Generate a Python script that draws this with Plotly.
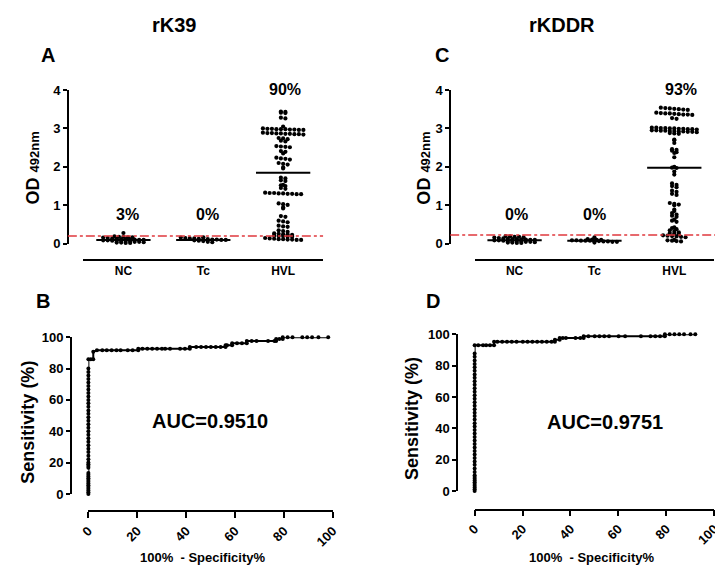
import numpy as np
import plotly.graph_objects as go

W, H = 723, 565
FONT = "Liberation Sans, Arial, sans-serif"

# ---------------- data ----------------
categories = ["NC", "Tc", "HVL"]

nc_A = [0.28, 0.19, 0.18, 0.18, 0.17, 0.17,
        0.16, 0.15, 0.14, 0.13, 0.12, 0.12, 0.11, 0.11, 0.10, 0.10,
        0.09, 0.09, 0.08, 0.08, 0.07, 0.07, 0.06, 0.05, 0.05, 0.04,
        0.03, 0.03, 0.02, 0.02]
tc_A = [0.17, 0.16, 0.15, 0.14, 0.14, 0.13, 0.12, 0.12, 0.11, 0.11, 0.10, 0.10,
        0.09, 0.08, 0.07, 0.05, 0.04]
hvl_A = [3.44, 3.43, 3.41, 3.40, 3.28, 3.26, 3.05,
         3.00, 2.99, 2.99, 2.98, 2.98, 2.98, 2.97, 2.97, 2.96, 2.96,
         2.89, 2.88, 2.88, 2.87, 2.87, 2.86, 2.86, 2.85, 2.85, 2.84,
         2.75, 2.74, 2.72, 2.68, 2.66, 2.54, 2.53, 2.52, 2.51, 2.41, 2.39, 2.35,
         2.24, 2.22, 2.21, 2.19, 2.10, 2.08, 2.06, 1.99, 1.96,
         1.72, 1.70, 1.65, 1.63, 1.53, 1.52, 1.50, 1.45, 1.43,
         1.33, 1.32, 1.32, 1.31, 1.31, 1.30, 1.30, 1.29, 1.29,
         1.05, 1.03, 1.01, 0.95, 0.92, 0.72, 0.70, 0.60, 0.58, 0.56,
         0.47, 0.45, 0.44, 0.35, 0.33, 0.31,
         0.27, 0.26, 0.25, 0.24, 0.23,
         0.21, 0.20, 0.20, 0.19, 0.18,
         0.15, 0.14, 0.13, 0.12, 0.12, 0.11, 0.11, 0.10, 0.10]
center_A = [0.10, 0.10, 1.85]
cutoff_A = 0.20
pct_A = ["3%", "0%", "90%"]

nc_C = [0.20, 0.19, 0.18, 0.18, 0.17,
        0.16, 0.15, 0.14, 0.13, 0.12, 0.12, 0.11, 0.11, 0.10, 0.10,
        0.09, 0.09, 0.08, 0.08, 0.07, 0.07, 0.06, 0.05, 0.05, 0.04,
        0.03, 0.03, 0.02, 0.02]
tc_C = [0.17, 0.12, 0.11, 0.10, 0.10,
        0.09, 0.09, 0.08, 0.08, 0.08, 0.07, 0.07, 0.06, 0.06, 0.05, 0.05, 0.03]
hvl_C = [3.54, 3.53, 3.52, 3.51, 3.50, 3.49, 3.48,
         3.41, 3.40, 3.39, 3.39, 3.38, 3.37, 3.36, 3.36, 3.35, 3.27, 3.25,
         3.02, 3.02, 3.01, 3.01, 3.00, 3.00, 2.99, 2.99, 2.98, 2.98, 2.97,
         2.95, 2.95, 2.94, 2.94, 2.93, 2.93, 2.92, 2.92, 2.91, 2.91, 2.90,
         2.88, 2.87, 2.86, 2.71, 2.69, 2.62, 2.46, 2.44, 2.42, 2.38, 2.36, 2.25,
         2.00, 1.98, 1.97, 1.88, 1.80, 1.57, 1.53, 1.50, 1.47, 1.38, 1.35, 1.30, 1.27,
         1.06, 1.04, 1.02, 1.00, 0.89, 0.85, 0.80, 0.76, 0.73, 0.70, 0.63, 0.60, 0.57,
         0.43, 0.41, 0.38, 0.35, 0.33, 0.30, 0.28, 0.27, 0.25,
         0.22, 0.21, 0.20, 0.19, 0.18, 0.17, 0.10, 0.09, 0.08, 0.07, 0.06]
center_C = [0.09, 0.08, 1.98]
cutoff_C = 0.23
pct_C = ["0%", "0%", "93%"]

roc_B_fpr = [0, 0, 0, 0, 0, 0, 0, 0, 0, 0, 0, 0, 0, 0, 0, 0, 0, 0, 0, 0, 0, 0, 0, 0, 0, 0,
             0, 0, 0, 0, 0, 0, 0, 0, 0, 0, 0, 0, 0, 0, 0, 0, 0, 0, 0,
             1.0, 2.0, 2.0, 3.5, 5.7, 7.5, 9.5, 11.5, 13.2, 16.1, 18.1, 20.4, 20.4,
             22.1, 24.1, 26.1, 28.1, 30.1, 31.4, 33.4, 37.5, 39.5, 41.5, 41.5,
             44.1, 46.1, 48.1, 50.1, 52.1, 54.1, 56.1, 56.1, 56.7, 58.8, 58.8, 60.8, 62.8,
             64.8, 64.8, 66.8, 68.8, 73.5, 76.1, 76.8, 76.8, 78.1, 79.5, 79.5, 81.5, 83.5,
             87.5, 89.5, 91.5, 94.1, 98.1]
roc_B_sens = [0.0, 1.1, 2.2, 3.3, 4.4, 5.6, 6.7, 7.8, 8.9, 10.0, 11.1, 12.2, 13.3, 16.7, 17.8,
              18.9, 20.0, 22.2, 24.4, 26.7, 28.9, 31.1, 33.3, 35.6, 37.8, 40.0, 42.2, 44.4,
              46.7, 48.9, 51.1, 53.3, 55.6, 57.8, 60.0, 62.2, 64.4, 66.7, 68.9, 71.1, 73.3,
              75.6, 77.8, 80.0, 86.0,
              86.0, 86.0, 90.7, 91.6, 91.6, 91.6, 91.6, 91.6, 91.6, 91.6, 91.6, 91.6, 92.7,
              92.7, 92.7, 92.7, 92.7, 92.7, 92.7, 92.7, 92.7, 92.7, 92.7, 93.8,
              93.8, 93.8, 93.8, 93.8, 93.8, 93.8, 93.8, 94.9, 94.9, 94.9, 96.2, 96.2, 96.2,
              96.2, 97.6, 97.6, 97.6, 97.6, 97.6, 97.6, 98.8, 98.8, 98.8, 100, 100, 100,
              100, 100, 100, 100, 100]
auc_B = "AUC=0.9510"

roc_D_fpr = [0, 0, 0, 0, 0, 0, 0, 0, 0, 0, 0, 0, 0, 0, 0, 0, 0, 0, 0, 0, 0, 0, 0, 0, 0, 0,
             0, 0, 0, 0, 0, 0, 0, 0, 0, 0, 0, 0, 0, 0, 0, 0, 0, 0, 0, 0,
             1.5, 3.5, 4.8, 6.4, 8.1, 8.1, 9.5, 11.5, 13.5, 15.5, 17.5, 20.1, 22.1, 24.1,
             26.1, 28.1, 30.1, 32.1, 33.5, 33.5, 35.5, 35.5, 36.8, 38.1, 42.1, 44.1, 45.5,
             45.5, 47.5, 50.1, 52.1, 54.1, 56.1, 60.1, 62.8, 69.4, 73.4, 75.4, 77.4, 79.4,
             79.4, 81.4, 83.4, 85.4, 87.4, 90.1, 92.1]
roc_D_sens = [0.0, 1.1, 2.2, 3.3, 4.4, 5.6, 6.7, 7.8, 8.9, 10.0, 12.2, 14.4, 16.7, 18.9,
              21.1, 23.3, 25.6, 27.8, 30.0, 32.2, 34.4, 36.7, 38.9, 41.1, 43.3, 45.6, 47.8,
              50.0, 52.2, 54.4, 56.7, 58.9, 61.1, 63.3, 65.6, 67.8, 70.0, 72.2, 74.4, 76.7,
              78.9, 81.1, 83.3, 85.6, 87.8, 93.0,
              93.0, 93.0, 93.0, 93.0, 93.0, 95.3, 95.3, 95.3, 95.3, 95.3, 95.3, 95.3, 95.3,
              95.3, 95.3, 95.3, 95.3, 95.3, 95.3, 96.5, 96.5, 97.7, 97.7, 97.7, 97.7, 97.7,
              97.7, 98.8, 98.8, 98.8, 98.8, 98.8, 98.8, 98.8, 98.8, 98.8, 98.8, 98.8, 98.8,
              98.8, 100, 100, 100, 100, 100, 100, 100]
auc_D = "AUC=0.9751"

# ---------------- layout helpers ----------------
def px(x):
    return x / W

def py(y):
    return 1 - y / H

XPX = 81.7      # pixels per category
DOT = 4.2
ROW = 0.065     # OD units per row of dots
GAP = 4.6       # px between neighbouring dots in a row


def row_offsets(vals):
    """GraphPad-like scatter dot plot: bin into rows, spread each row about the centre."""
    vals = np.asarray(vals, dtype=float)
    bins = np.floor(vals / ROW + 0.5).astype(int)
    xs = np.zeros(len(vals))
    for b in np.unique(bins):
        idx = np.where(bins == b)[0]
        n = len(idx)
        for j, i in enumerate(idx):
            xs[i] = (j - (n - 1) / 2) * GAP / XPX
    return xs


fig = go.Figure()

tickfont = dict(family=FONT, size=13, color="black", weight="bold")

def dot_panel(groups, centers, xa, ya):
    for k, g in enumerate(groups):
        off = row_offsets(g)
        fig.add_trace(go.Scatter(x=k + off, y=g, mode="markers", xaxis=xa, yaxis=ya,
                                 marker=dict(size=DOT, color="black"), cliponaxis=False,
                                 showlegend=False, hoverinfo="y"))
        fig.add_trace(go.Scatter(x=[k - 0.34, k + 0.34], y=[centers[k], centers[k]],
                                 mode="lines", xaxis=xa, yaxis=ya,
                                 line=dict(color="black", width=2), showlegend=False,
                                 hoverinfo="skip"))

dot_panel([nc_A, tc_A, hvl_A], center_A, "x", "y")
dot_panel([nc_C, tc_C, hvl_C], center_C, "x2", "y2")

fig.add_trace(go.Scatter(x=roc_B_fpr, y=roc_B_sens, mode="lines+markers", xaxis="x3", yaxis="y3",
                         line=dict(color="black", width=2), marker=dict(size=4, color="black"),
                         cliponaxis=False, showlegend=False))
fig.add_trace(go.Scatter(x=roc_D_fpr, y=roc_D_sens, mode="lines+markers", xaxis="x4", yaxis="y4",
                         line=dict(color="black", width=2), marker=dict(size=4, color="black"),
                         cliponaxis=False, showlegend=False))

cat_x = dict(range=[-0.5, 2.5], tickvals=[0, 1, 2], ticktext=categories, showline=True,
             linecolor="black", linewidth=1.5, ticks="", showgrid=False, zeroline=False,
             tickfont=dict(tickfont, size=12), anchor="free", position=py(252), fixedrange=True)
od_y = dict(range=[0, 4], tickvals=[0, 1, 2, 3, 4], showline=True, linecolor="black",
            linewidth=1.5, ticks="outside", ticklen=4, tickwidth=1.5, tickcolor="black",
            showgrid=False, zeroline=False, tickfont=tickfont, anchor="free")
roc_x = dict(range=[0, 100], tickvals=[0, 20, 40, 60, 80, 100], tickangle=-45, showline=True,
             linecolor="black", linewidth=1.5, ticks="outside", ticklen=6, tickwidth=1.5,
             tickcolor="black", showgrid=False, zeroline=False, tickfont=tickfont,
             anchor="free")
roc_y = dict(range=[0, 100], tickvals=[0, 20, 40, 60, 80, 100], showline=True,
             linecolor="black", linewidth=1.5, ticks="outside", ticklen=4, tickwidth=1.5,
             tickcolor="black", showgrid=False, zeroline=False, tickfont=tickfont,
             anchor="free")

fig.update_layout(
    width=W, height=H, margin=dict(l=0, r=0, t=0, b=0),
    paper_bgcolor="white", plot_bgcolor="rgba(0,0,0,0)",
    xaxis=dict(cat_x, domain=[px(68), px(313)]),
    yaxis=dict(od_y, domain=[py(235), py(77)], position=px(52)),
    xaxis2=dict(cat_x, domain=[px(468), px(713)]),
    yaxis2=dict(od_y, domain=[py(235), py(77)], position=px(443)),
    xaxis3=dict(roc_x, domain=[px(73), px(323)], position=py(510)),
    yaxis3=dict(roc_y, domain=[py(492), py(331)], position=px(55)),
    xaxis4=dict(roc_x, domain=[px(468), px(713)], position=py(508)),
    yaxis4=dict(roc_y, domain=[py(489), py(328)], position=px(450)),
    showlegend=False,
)

# cutoff lines
fig.add_shape(type="line", xref="paper", yref="y", x0=px(52), x1=px(313), y0=cutoff_A,
              y1=cutoff_A, line=dict(color="#e0393e", width=1.5, dash="dashdot"))
fig.add_shape(type="line", xref="paper", yref="y2", x0=px(443), x1=px(714), y0=cutoff_C,
              y1=cutoff_C, line=dict(color="#e0393e", width=1.5, dash="dashdot"))


def ann(text, x, y, size, angle=0):
    fig.add_annotation(text=text, x=px(x), y=py(y), xref="paper", yref="paper",
                       showarrow=False, textangle=angle, xanchor="center", yanchor="middle",
                       font=dict(family=FONT, size=size, color="black", weight="bold"))

ann("rK39", 161, 10, 20)
ann("rKDDR", 557, 10, 20)
ann("A", 32, 41, 20)
ann("C", 435, 41, 20)
ann("B", 27, 294, 20)
ann("D", 425, 294, 20)

for k, (t, xx) in enumerate(zip(pct_A, [113, 195, 274])):
    ann(t, xx, 205 if k < 2 else 77, 16)
for k, (t, xx) in enumerate(zip(pct_C, [511, 591, 679])):
    ann(t, xx, 205 if k < 2 else 77, 16)

od_title = "OD <span style='font-size:13px'>492nm</span>"
ann(od_title, 16, 157, 18, -90)
ann(od_title, 416, 157, 18, -90)
ann("Sensitivity (%)", 11, 418, 18, -90)
ann("Sensitivity (%)", 404, 415, 18, -90)
ann(auc_B, 197, 417, 20)
ann(auc_D, 601, 418, 20)
ann("100%  - Specificity%", 190, 557, 13)
ann("100%  - Specificity%", 588, 557, 13)

fig.write_html("out.html")
